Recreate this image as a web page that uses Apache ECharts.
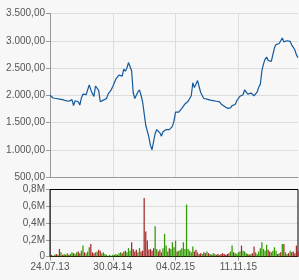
<!DOCTYPE html>
<html>
<head>
<meta charset="utf-8">
<script src="https://cdn.jsdelivr.net/npm/echarts@6/dist/echarts.min.js"></script>
<style>
html,body{margin:0;padding:0;background:#f7f7f7;}
#c{width:299px;height:280px;}
</style>
</head>
<body>
<div id="c"></div>
<script>
// Weekly categories starting 24.07.13
var startDate = '2013-07-24';
var weekCount = 159;

var price = [
2000,1970,1950,1950,1940,1940,1930,1930,1920,1920,
1900,1910,1890,1900,1920,1810,1900,1910,1880,1820,
1950,2020,2010,2010,2020,2190,2100,2030,1980,2170,
2190,2090,1880,1880,1910,1920,1940,2020,2050,2100,
2160,2180,2300,2280,2370,2380,2350,2480,2440,2500,
2600,2620,2450,2050,1940,1920,2060,2100,2000,1880,
1870,1450,1340,1230,1080,1000,970,1300,1370,1340,
1310,1250,1330,1360,1370,1380,1370,1390,1430,1530,
1690,1660,1690,1710,1760,1800,1840,1860,1890,1940,
1990,2230,2140,2120,2270,2240,2050,2060,1940,1910,
1930,1900,1910,1890,1900,1900,1890,1870,1880,1840,
1810,1800,1790,1760,1740,1770,1810,1790,1830,1900,
1940,1980,1950,2010,2100,2130,2020,2000,2040,2010,
1990,2010,2060,2150,2200,2450,2570,2660,2700,2640,
2610,2620,2640,2870,2930,2910,2950,2930,3050,2980,
2990,3000,2980,2990,2920,2880,2830,2740,2690
];

var volume = [
0.01,0.02,0.01,0.02,0.03,0.02,0.09,0.05,0.02,0.03,
0.02,0.04,0.02,0.03,0.05,0.04,0.03,0.05,0.06,0.04,
0.07,0.13,0.05,0.04,0.06,0.11,0.15,0.05,0.04,0.05,
0.06,0.08,0.07,0.04,0.05,0.03,0.02,0.01,0.02,0.01,
0.02,0.02,0.03,0.02,0.04,0.05,0.04,0.06,0.07,0.05,
0.10,0.07,0.17,0.09,0.06,0.08,0.05,0.10,0.06,0.07,
0.70,0.30,0.19,0.08,0.09,0.07,0.10,0.36,0.09,0.06,
0.08,0.05,0.10,0.27,0.13,0.06,0.10,0.09,0.17,0.11,
0.19,0.06,0.07,0.08,0.10,0.17,0.09,0.62,0.09,0.07,
0.05,0.12,0.06,0.08,0.05,0.03,0.04,0.03,0.05,0.04,
0.06,0.04,0.03,0.02,0.04,0.03,0.02,0.03,0.02,0.03,
0.04,0.03,0.02,0.03,0.04,0.06,0.13,0.05,0.04,0.03,
0.05,0.06,0.13,0.07,0.06,0.04,0.03,0.02,0.03,0.04,
0.12,0.05,0.03,0.06,0.10,0.17,0.09,0.07,0.14,0.08,
0.06,0.05,0.07,0.11,0.07,0.03,0.04,0.05,0.15,0.15,
0.05,0.03,0.04,0.07,0.05,0.06,0.04,0.13,0.06
];

var priceTicks = [500, 3500, 500];   // min, max, interval
var volumeTicks = [0, 0.8, 0.2];     // in millions
var labelEvery = 40;                 // weeks between x labels

function pad(n){return (n<10?'0':'')+n;}
var categories = [];
(function(){
  var d = new Date(startDate + 'T12:00:00Z');
  for (var i = 0; i < weekCount; i++) {
    var t = new Date(d.getTime() + i*7*86400000);
    categories.push(pad(t.getUTCDate()) + '.' + pad(t.getUTCMonth()+1) + '.' + String(t.getUTCFullYear()).slice(2));
  }
})();

var volData = volume.map(function(v, i){
  var up = i === 0 ? true : price[i] >= price[i-1];
  return {value: v, itemStyle: {color: up ? '#339900' : '#a52a2a'}};
});

function fmtPrice(v){
  var s = String(Math.round(v));
  s = s.replace(/\B(?=(\d{3})+(?!\d))/g, '.');
  return s + ',00';
}
function fmtVol(v){
  if (v === 0) return '0';
  return v.toFixed(1).replace('.', ',') + 'M';
}
function every(i){ return i % labelEvery === 0; }

var FONT = 'Liberation Sans, Arial, sans-serif';
var chart = echarts.init(document.getElementById('c'), null, {renderer:'canvas'});
chart.setOption({
  animation:false,
  backgroundColor:'#f7f7f7',
  grid:[
    {left:50, right:1, top:13.5, height:163.5, show:false},
    {left:50, right:1, top:189.5, height:67, show:true, borderColor:'#000', borderWidth:1, backgroundColor:'transparent', z:3}
  ],
  xAxis:[
    {type:'category', gridIndex:0, data:categories, boundaryGap:false,
     axisLine:{lineStyle:{color:'#999'}}, axisTick:{show:false}, axisLabel:{show:false},
     splitLine:{show:true, interval:every, lineStyle:{color:'#ddd'}}},
    {type:'category', gridIndex:1, data:categories, boundaryGap:false,
     axisLine:{lineStyle:{color:'#999'}}, axisTick:{show:true, interval:every, length:4, lineStyle:{color:'#999'}},
     axisLabel:{interval:every, margin:6, fontSize:10, color:'#555', fontFamily:FONT, hideOverlap:false},
     splitLine:{show:true, interval:every, lineStyle:{color:'#ddd'}}}
  ],
  yAxis:[
    {type:'value', gridIndex:0, min:priceTicks[0], max:priceTicks[1], interval:priceTicks[2],
     axisLine:{show:true, lineStyle:{color:'#999'}}, axisTick:{show:true, length:4, lineStyle:{color:'#999'}},
     axisLabel:{formatter:fmtPrice, margin:5, fontSize:10, color:'#555', fontFamily:FONT},
     splitLine:{lineStyle:{color:'#ddd'}}},
    {type:'value', gridIndex:1, min:volumeTicks[0], max:volumeTicks[1], interval:volumeTicks[2],
     axisLine:{show:true, lineStyle:{color:'#999'}}, axisTick:{show:true, length:4, lineStyle:{color:'#999'}},
     axisLabel:{formatter:fmtVol, margin:5, fontSize:10, color:'#555', fontFamily:FONT},
     splitLine:{lineStyle:{color:'#ddd'}}}
  ],
  series:[
    {type:'line', xAxisIndex:0, yAxisIndex:0, data:price, symbol:'none',
     lineStyle:{color:'#135a9c', width:1.2}, z:5},
    {type:'bar', xAxisIndex:1, yAxisIndex:1, data:volData, barCategoryGap:'20%', z:5}
  ]
});
</script>
</body>
</html>
